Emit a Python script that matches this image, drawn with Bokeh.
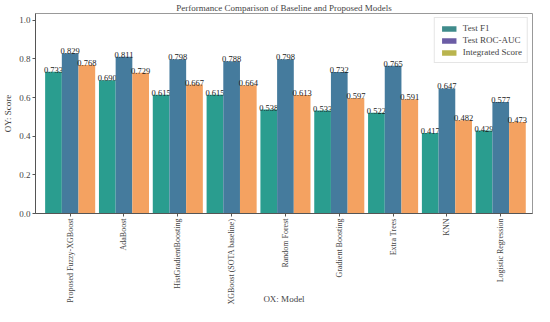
import numpy as np
from bokeh.plotting import figure
from bokeh.models import Range1d, FixedTicker, Legend, LegendItem, ColumnDataSource, CustomJSTickFormatter
from bokeh.core.properties import value
from bokeh.embed import file_html
from bokeh.resources import INLINE

models = ["Proposed Fuzzy-XGBoost", "AdaBoost", "HistGradientBoosting", "XGBoost (SOTA baseline)",
          "Random Forest", "Gradient Boosting", "Extra Trees", "KNN", "Logistic Regression"]
test_f1 = [0.733, 0.690, 0.615, 0.615, 0.538, 0.533, 0.522, 0.417, 0.429]
test_roc_auc = [0.829, 0.811, 0.798, 0.788, 0.798, 0.732, 0.765, 0.647, 0.577]
integrated = [0.768, 0.729, 0.667, 0.664, 0.613, 0.597, 0.591, 0.482, 0.473]
y_ticks = [0.0, 0.2, 0.4, 0.6, 0.8, 1.0]

FONT = "Liberation Serif"
bar_colors = ["#2a9d8f", "#457b9d", "#f4a261"]
legend_colors = ["#3f8b8b", "#6b5ca5", "#b9b44e"]
names = ["Test F1", "Test ROC-AUC", "Integrated Score"]
series = [test_f1, test_roc_auc, integrated]

p = figure(width=534, height=306, output_backend="svg", toolbar_location=None,
           x_range=Range1d(-0.644, 8.59), y_range=Range1d(0, 1.035),
           min_border_left=10, min_border_right=2, min_border_top=4, min_border_bottom=0)

p.title.text = "Performance Comparison of Baseline and Proposed Models"
p.title.align = "center"
p.title.text_font = FONT
p.title.text_font_size = "9px"
p.title.text_font_style = "normal"
p.title.offset = 0
p.title.standoff = 1

x = np.arange(len(models))
w = 0.31
offsets = [-w, 0.0, w]
legend_items = []
for vals, off, col, lcol, nm in zip(series, offsets, bar_colors, legend_colors, names):
    src = ColumnDataSource(dict(x=x + off, top=vals, lab=[f"{v:.3f}" for v in vals]))
    p.vbar(x="x", top="top", width=w, source=src, fill_color=col, line_color=None)
    p.text(x="x", y="top", text="lab", source=src, text_align="center", text_baseline="bottom",
           text_font=value(FONT), text_font_size="8.5px", text_color="#1a1a1a", y_offset=1)
    dummy = p.vbar(x=[-100], top=[0.5], width=w, fill_color=lcol, line_color=None)
    legend_items.append(LegendItem(label=nm, renderers=[dummy]))

legend = Legend(items=legend_items, location="top_right")
legend.label_text_font = FONT
legend.label_text_font_size = "9px"
legend.glyph_width = 18
legend.glyph_height = 7
legend.label_height = 9
legend.spacing = 2
legend.padding = 5
legend.margin = 4
legend.border_line_color = "#cccccc"
legend.background_fill_alpha = 0.9
p.add_layout(legend)

p.xgrid.visible = False
p.ygrid.visible = False
p.outline_line_color = "#999999"

p.xaxis.ticker = FixedTicker(ticks=list(x))
p.xaxis.major_label_overrides = {int(i): m for i, m in zip(x, models)}
p.xaxis.major_label_orientation = np.pi / 2
p.xaxis.axis_label = "OX: Model"
p.yaxis.ticker = FixedTicker(ticks=y_ticks)
p.yaxis.axis_label = "OY: Score"
for ax in (p.xaxis, p.yaxis):
    ax.major_label_text_font = FONT
    ax.major_label_text_font_size = "9px"
    ax.axis_label_text_font = FONT
    ax.axis_label_text_font_size = "9px"
    ax.axis_label_text_font_style = "normal"
    ax.axis_label_standoff = 3
    ax.major_label_standoff = 2
    ax.major_tick_out = 3
    ax.major_tick_in = 0
    ax.minor_tick_line_color = None
    ax.axis_line_color = "#555555"
    ax.major_tick_line_color = "#555555"
p.xaxis.major_label_text_font_size = "8px"
p.xaxis.axis_label_standoff = -14
p.yaxis.formatter = CustomJSTickFormatter(code="return tick.toFixed(1);")

open("out.html", "w").write(file_html(p, INLINE))
